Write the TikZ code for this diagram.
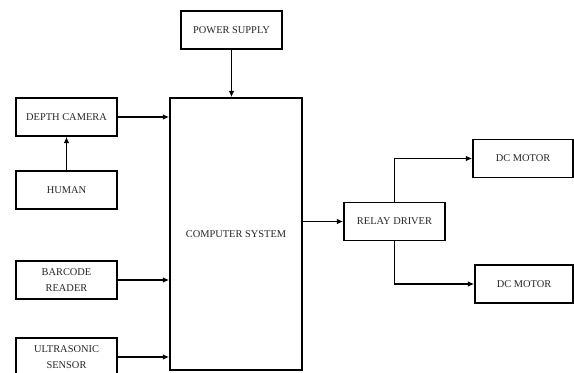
\documentclass[tikz,border=0pt]{standalone}
\usepackage{fontspec}
\setmainfont{Liberation Serif}
\usetikzlibrary{arrows.meta}

\tikzset{
  blk/.style={draw,line width=1.1pt,minimum width=2.525cm,minimum height=0.95cm,
    align=center,inner sep=1pt,text=black!85,font=\fontsize{7.4}{11.4}\selectfont},
  arr/.style={-{Latex[length=4.5pt,width=4pt]},line width=1.1pt}
}

\begin{document}
\begin{tikzpicture}[x=0.025cm,y=-0.025cm]

\useasboundingbox (0,0) rectangle (574,373);

\node[blk]
(supply)
at (231.5,30)
{POWER SUPPLY};

\node[blk,minimum width=3.3cm,minimum height=6.8cm]
(computer)
at (236,234)
{COMPUTER SYSTEM};

\node[blk]
(camera)
at (66.5,117)
{DEPTH CAMERA};

\node[blk]
(human)
at (66.5,190)
{HUMAN};

\node[blk]
(barcode)
at (66.5,280)
{BARCODE\\READER};

\node[blk]
(sensor)
at (66.5,357)
{ULTRASONIC\\SENSOR};

\node[blk]
(relay)
at (394.5,221.5)
{RELAY DRIVER};

\node[blk,minimum width=2.5cm]
(motorA)
at (523,158.5)
{DC MOTOR};

\node[blk,minimum width=2.45cm]
(motorB)
at (524,284)
{DC MOTOR};

\draw[arr]
(supply.south)
--
(supply.south |- computer.north);

\draw[arr]
(human.north)
--
(camera.south);

\draw[arr]
(camera.east)
--
(camera.east -| computer.west);

\draw[arr]
(barcode.east)
--
(barcode.east -| computer.west);

\draw[arr]
(sensor.east)
--
(sensor.east -| computer.west);

\draw[arr]
(relay.west -| computer.east)
--
(relay.west);

\draw[arr]
(relay.north)
|-
(motorA.west);

\draw[arr]
(relay.south)
|-
(motorB.west);

\end{tikzpicture}
\end{document}
